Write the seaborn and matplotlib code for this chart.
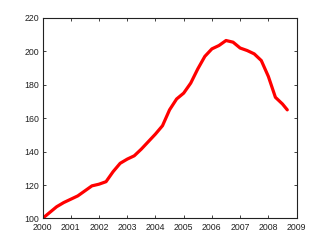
import matplotlib
matplotlib.use("Agg")
import matplotlib.pyplot as plt
import seaborn as sns
import pandas as pd

years = [2000.0, 2000.25, 2000.5, 2000.75, 2001.0, 2001.25, 2001.5, 2001.75,
         2002.0, 2002.25, 2002.5, 2002.75, 2003.0, 2003.25, 2003.5, 2003.75,
         2004.0, 2004.25, 2004.5, 2004.75, 2005.0, 2005.25, 2005.5, 2005.75,
         2006.0, 2006.25, 2006.5, 2006.75, 2007.0, 2007.25, 2007.5, 2007.75,
         2008.0, 2008.25, 2008.5, 2008.67]
index_values = [100, 103.5, 107, 109.5, 111.5, 113.5, 116.5, 119.5,
                120.5, 122, 128, 133, 135.5, 137.5, 141.5, 146,
                150.5, 155.5, 165, 171.5, 175, 181, 189.5, 197,
                201.5, 203.5, 206.5, 205.5, 202, 200.5, 198.5, 194.5,
                185, 172.5, 168.5, 165]
x_ticks = list(range(2000, 2010))
y_ticks = [100, 120, 140, 160, 180, 200, 220]

sns.set_style("white")
plt.rcParams['font.family'] = ['Liberation Sans', 'DejaVu Sans']

df = pd.DataFrame({"year": years, "value": index_values})

fig = plt.figure(figsize=(3.27, 2.46), dpi=100)
ax = fig.add_axes([0.13, 0.112, 0.777, 0.815])
sns.lineplot(data=df, x="year", y="value", ax=ax, color="#ff0000", linewidth=2.3,
             solid_joinstyle="round", solid_capstyle="round")

ax.set_xlim(2000, 2009)
ax.set_ylim(100, 220)
ax.set_xticks(x_ticks)
ax.set_yticks(y_ticks)
ax.set_xticklabels([str(t) for t in x_ticks])
ax.set_yticklabels([str(t) for t in y_ticks])
ax.set_xlabel("")
ax.set_ylabel("")
ax.tick_params(direction="in", length=2.5, width=0.6, labelsize=6.3, colors="#222222",
               top=True, right=True, bottom=True, left=True)
ax.tick_params(axis="x", pad=3)
ax.tick_params(axis="y", pad=2.5)
for s in ax.spines.values():
    s.set_color("#222222")
    s.set_linewidth(0.8)

fig.savefig("out.png", dpi=100)
